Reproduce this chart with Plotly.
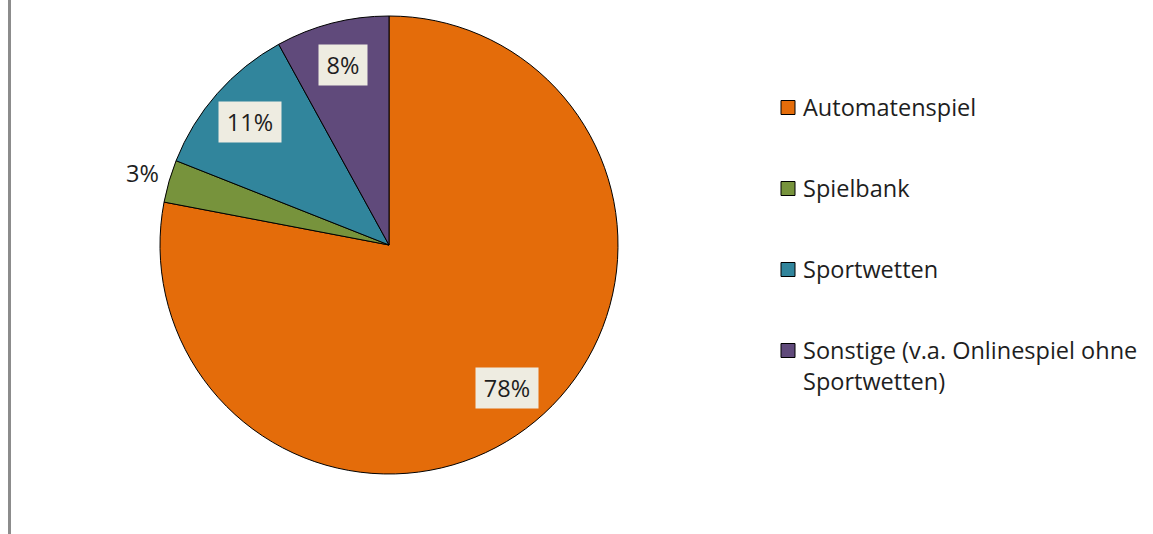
import math
import plotly.graph_objects as go

# Anteile der Spielformen (in Prozent)
categories = ["Automatenspiel", "Spielbank", "Sportwetten",
              "Sonstige (v.a. Onlinespiel ohne<br>Sportwetten)"]
shares = [78, 3, 11, 8]
colors = ["#E46C0A", "#77933C", "#31859C", "#604A7B"]
label_inside = [True, False, True, True]

W, H = 1153, 534
CX, CY, R = 389, 245, 229          # pie centre and radius in pixels
FONT = "Open Sans"
TEXT_COLOR = "#1E1E1E"
LABEL_SIZE = 23.5
LEGEND_SIZE = 23.5


def px_to_paper(x, y):
    return x / W, 1 - y / H


fig = go.Figure(go.Pie(
    labels=categories,
    values=shares,
    sort=False,
    direction="clockwise",
    rotation=0,
    textinfo="none",
    marker=dict(colors=colors, line=dict(color="#000000", width=1)),
    domain=dict(x=[(CX - R) / W, (CX + R) / W],
                y=[1 - (CY + R) / H, 1 - (CY - R) / H]),
    showlegend=False,
    hovertemplate="%{label}: %{value}%<extra></extra>",
))

annotations = []
shapes = []

# value labels placed on each slice's mid angle
total = sum(shares)
cum = 0
for val, inside in zip(shares, label_inside):
    mid = (cum + val / 2) / total * 2 * math.pi
    cum += val
    r = 0.81 * R if inside else 1.12 * R
    x, y = px_to_paper(CX + r * math.sin(mid), CY - r * math.cos(mid))
    text = f"{val}%"
    ann = dict(x=x, y=y, xref="paper", yref="paper", text=text,
               showarrow=False, xanchor="center", yanchor="middle",
               font=dict(family=FONT, size=LABEL_SIZE, color=TEXT_COLOR))
    if inside:
        ann.update(bgcolor="#EEECE1", width=14 * len(text) + 20, height=40,
                   borderpad=0)
    annotations.append(ann)

# legend on the right
LEG_X, LEG_Y0, LEG_GAP, SQ = 781, 107.5, 81, 14
for i, (name, col) in enumerate(zip(categories, colors)):
    yc = LEG_Y0 + i * LEG_GAP
    x0, y0 = px_to_paper(LEG_X, yc + SQ / 2)
    x1, y1 = px_to_paper(LEG_X + SQ, yc - SQ / 2)
    shapes.append(dict(type="rect", xref="paper", yref="paper",
                       x0=x0, x1=x1, y0=y0, y1=y1, fillcolor=col,
                       line=dict(color="#000000", width=1)))
    tx, ty = px_to_paper(LEG_X + SQ + 7, yc - 18)
    annotations.append(dict(x=tx, y=ty, xref="paper", yref="paper",
                            text=name, showarrow=False, xanchor="left",
                            yanchor="top", align="left", borderpad=0,
                            font=dict(family=FONT, size=LEGEND_SIZE,
                                      color=TEXT_COLOR)))

# grey frame line at the left edge
shapes.append(dict(type="line", xref="paper", yref="paper",
                   x0=9.5 / W, x1=9.5 / W, y0=0, y1=1,
                   line=dict(color="#8C8C8C", width=3)))

fig.update_layout(
    width=W, height=H,
    margin=dict(l=0, r=0, t=0, b=0),
    paper_bgcolor="white",
    plot_bgcolor="white",
    annotations=annotations,
    shapes=shapes,
)

fig.write_html("out.html")
